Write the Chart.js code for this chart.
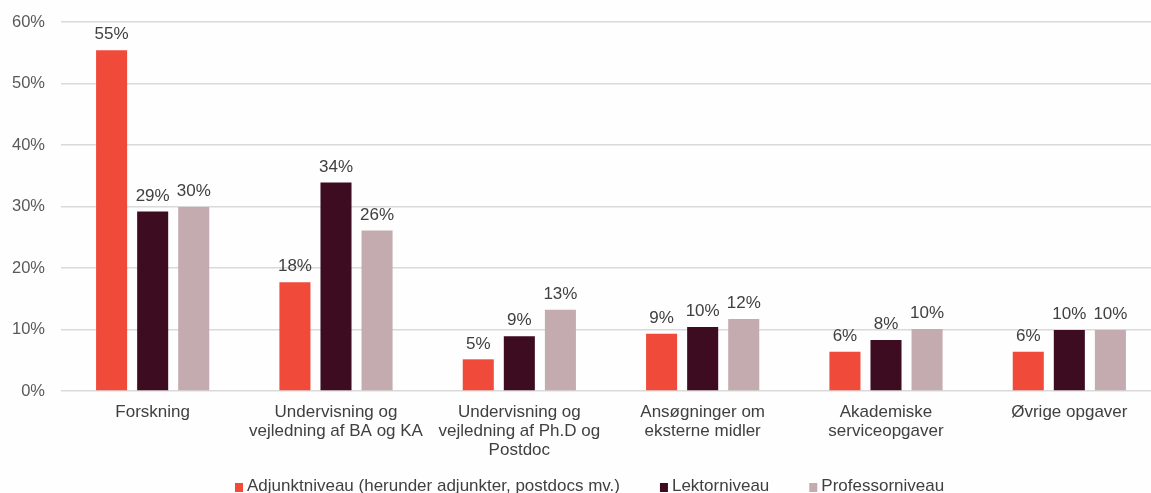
<!DOCTYPE html>
<html>
<head>
<meta charset="utf-8">
<script src="https://cdn.jsdelivr.net/npm/chart.js@4.4.1/dist/chart.umd.min.js"></script>
<style>
  html, body { margin: 0; padding: 0; background: #fefefe; overflow: hidden; }
  #wrap { position: relative; width: 1165px; height: 505px; }
</style>
</head>
<body>
<div id="wrap"><canvas id="barChart"></canvas></div>
<script>
// categories and series (percent)
const categories = [
    'Forskning',
    ['Undervisning og', 'vejledning af BA og KA'],
    ['Undervisning og', 'vejledning af Ph.D og', 'Postdoc'],
    ['Ansøgninger om', 'eksterne midler'],
    ['Akademiske', 'serviceopgaver'],
    'Øvrige opgaver'
];
const seriesNames = ['Adjunktniveau (herunder adjunkter, postdocs mv.)', 'Lektorniveau', 'Professorniveau'];
const adjunkt = [55.4, 17.7, 5.15, 9.3, 6.4, 6.4];
const lektor = [29.2, 33.9, 8.9, 10.4, 8.3, 9.9];
const professor = [29.9, 26.1, 13.2, 11.7, 10.1, 9.9];
const yTicks = [0, 10, 20, 30, 40, 50, 60];

const colors = ['#ef4a3a', '#3d0c21', '#c3abb0'];
const FONT = '"Liberation Sans", Arial, sans-serif';

// value labels above each bar
const valueLabels = {
    id: 'valueLabels',
    afterDatasetsDraw(chart) {
        const ctx = chart.ctx;
        ctx.save();
        ctx.font = '17px ' + FONT;
        ctx.fillStyle = '#404040';
        ctx.textAlign = 'center';
        ctx.textBaseline = 'bottom';
        chart.data.datasets.forEach((ds, i) => {
            chart.getDatasetMeta(i).data.forEach((bar, j) => {
                ctx.fillText(Math.round(ds.data[j]) + '%', bar.x, bar.y - 7);
            });
        });
        ctx.restore();
    }
};

// legend at the bottom (partly cut off like the original)
const bottomLegend = {
    id: 'bottomLegend',
    afterDraw(chart) {
        const ctx = chart.ctx;
        let x = 235;
        const y = 486;
        ctx.save();
        ctx.font = '17px ' + FONT;
        ctx.textBaseline = 'middle';
        chart.data.datasets.forEach(ds => {
            ctx.fillStyle = ds.backgroundColor;
            ctx.fillRect(x, y - 3, 8, 9);
            x += 12;
            ctx.fillStyle = '#404040';
            ctx.fillText(ds.label, x, y);
            x += ctx.measureText(ds.label).width + 40;
        });
        ctx.restore();
    }
};

const ctx = document.getElementById('barChart').getContext('2d');
const barChart = new Chart(ctx, {
    type: 'bar',
    data: {
        labels: categories,
        datasets: [
            { label: seriesNames[0], data: adjunkt, backgroundColor: colors[0] },
            { label: seriesNames[1], data: lektor, backgroundColor: colors[1] },
            { label: seriesNames[2], data: professor, backgroundColor: colors[2] }
        ]
    },
    options: {
        responsive: true,
        maintainAspectRatio: false,
        animation: false,
        datasets: {
            bar: { categoryPercentage: 0.672, barPercentage: 0.756 }
        },
        layout: { padding: { top: 22, right: 4, left: 0, bottom: 0 } },
        plugins: {
            legend: { display: false },
            tooltip: { enabled: false }
        },
        scales: {
            x: {
                grid: { display: false },
                border: { display: false },
                ticks: {
                    color: '#404040',
                    font: { family: FONT, size: 17, lineHeight: 1.12 },
                    padding: 4,
                    maxRotation: 0,
                    autoSkip: false
                },
                afterFit(scale) { scale.height = 114; }
            },
            y: {
                min: 0,
                max: 60,
                afterBuildTicks(scale) { scale.ticks = yTicks.map(v => ({ value: v })); },
                grid: { color: '#d9d9d9', lineWidth: 1.5, drawTicks: false },
                border: { display: false },
                ticks: {
                    color: '#595959',
                    font: { family: FONT, size: 16.5 },
                    padding: 16,
                    callback: v => v + '%'
                },
                afterFit(scale) {
                    scale.width = 61;
                    scale.paddingTop = 0;
                    scale.paddingBottom = 0;
                }
            }
        }
    },
    plugins: [valueLabels, bottomLegend]
});
</script>
</body>
</html>
